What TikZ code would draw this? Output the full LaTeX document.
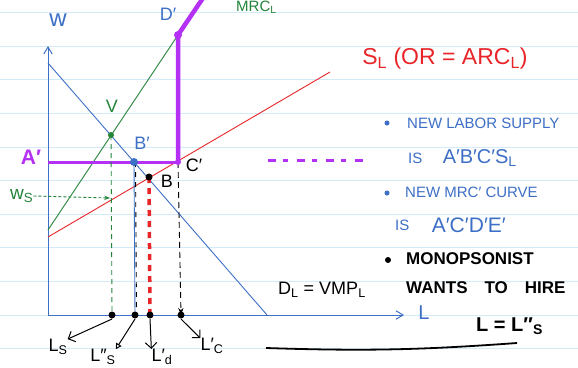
\documentclass[tikz,border=0pt]{standalone}
\usepackage{fontspec}
\setmainfont{Liberation Sans}
\usepackage{xcolor}
\usetikzlibrary{positioning, arrows.meta}
\definecolor{inkBlue}{HTML}{3D6FC6}
\definecolor{inkGreen}{HTML}{23843A}
\definecolor{inkRed}{HTML}{E8262A}
\definecolor{inkPurple}{HTML}{B530F5}
\definecolor{ruleBlue}{HTML}{D3EBF8}

\begin{document}
\begin{tikzpicture}[x=1pt, y=-1pt, inner sep=0pt,
    rule/.style={draw=ruleBlue, line width=1pt},
    ax/.style={draw=inkBlue, line width=1pt, -{Straight Barb[length=2.5mm, width=3mm]}},
    curve/.style={line width=0.9pt},
    mark/.style={circle, fill, inner sep=0pt, minimum size=#1},
    arr/.style={-{Straight Barb[length=2mm]}, line width=1pt},
    note/.style={anchor=west, font=\fontsize{15}{17}\selectfont},
    big/.style={font=\fontsize{18}{20}\selectfont}]
  \useasboundingbox (0,0) rectangle (578,367);
  \fill[white] (0,0) rectangle (578,367);
  \foreach \k in {0,...,10} \draw[rule] (0,{12.7+33.6*\k}) -- (578,{12.7+33.6*\k});
  % axes
  \coordinate (O) at (48,315);
  \coordinate (ytop) at (48,46);
  \coordinate (xend) at (404,315);
  \draw[ax] (O) -- (ytop);
  \draw[ax] (O) -- (xend);
  \node[text=inkBlue, font=\fontsize{24}{24}\selectfont] (wlab) at (58,20) {w};
  \node[text=inkBlue, font=\fontsize{20}{20}\selectfont] (Llab) at (424,313) {L};
  % curves
  \coordinate (d0) at (48,63);  \coordinate (d1) at (267,315);
  \coordinate (s0) at (48,237); \coordinate (s1) at (330,72);
  \coordinate (m0) at (48,230); \coordinate (Dp) at (178,35);
  \coordinate (e0) at (203,-2);
  \coordinate (V) at (111,135);
  \coordinate (Ap) at (48,162);
  \coordinate (Bp) at (134,162);
  \coordinate (Cp) at (178,162);
  \coordinate (B) at (149,177);
  \draw[inkBlue, curve] (d0) -- (d1);
  \draw[inkRed, curve] (s0) -- (s1);
  \draw[inkGreen, curve] (m0) -- (Dp);
  \draw[inkPurple, line width=3pt] (Ap) -- (Cp);
  \draw[inkPurple, line width=4.5pt, line join=round] (Cp) -- (Dp) -- (e0);
  % points on the L axis
  \coordinate (Ls) at (112,315);
  \coordinate (Lss) at (135,315);
  \coordinate (Ld) at (150,315);
  \coordinate (Lc) at (181,315);
  \draw[inkGreen, curve, dash pattern=on 5pt off 4pt] (V) -- (Ls);
  \draw[inkBlue, curve] (Bp) -- (Lss);
  \draw[curve, dash pattern=on 5pt off 5pt] ([xshift=1.5pt]Bp) -- ([xshift=1.5pt]Lss);
  \draw[inkRed, line width=3.5pt, dash pattern=on 6pt off 5pt] (B) -- (Ld);
  \draw[curve, dash pattern=on 6pt off 4pt, -{Stealth[length=2.5mm]}] (Cp) -- (Lc);
  \foreach \p in {Ls, Lss, Ld, Lc} \node[mark=7pt] at (\p) {};
  \node[mark=6pt, inkGreen] at (V) {};
  \node[mark=8pt, inkBlue] at (Bp) {};
  \node[mark=7pt] at (B) {};
  \node[mark=6pt, inkPurple] at (Cp) {};
  \node[mark=8pt, inkPurple] at (Dp) {};
  % labels
  \node[text=inkGreen, big] (Vlab) at (112,106) {V};
  \node[text=inkBlue, big] (Bplab) at (142,143) {B′};
  \node[big] (Cplab) at (194,165) {C′};
  \node[big] (Blab) at (167,181) {B};
  \node[text=inkBlue, big] (Dplab) at (168,14) {D′};
  \node[text=inkPurple, font=\fontsize{21}{23}\selectfont\bfseries] (Aplab) at (31,157) {A′};
  \node[text=inkGreen, font=\fontsize{19}{21}\selectfont, anchor=west] (wslab) at (10,196) {w\textsubscript{S}};
  \coordinate (wsend) at (110,198);
  \draw[inkGreen, curve, densely dashed, -{Stealth[length=2mm]}] (wslab.east) -- (wsend);
  \node[text=inkGreen, font=\fontsize{15}{17}\selectfont, anchor=north west] (mrclab) at (236,1) {MRC\textsubscript{L}};
  \node[text=inkRed, font=\fontsize{23}{25}\selectfont] (slab) at (445,59) {S\textsubscript{L} (OR = ARC\textsubscript{L})};
  \node[font=\fontsize{18}{20}\selectfont] (dlab) at (322,290) {D\textsubscript{L} = VMP\textsubscript{L}};
  % labels under the axis
  \node[big] (lslab) at (58,347) {L\textsubscript{S}};
  \node[big] (lsslab) at (103,357) {L″\textsubscript{S}};
  \node[big] (ldlab) at (162,357) {L′\textsubscript{d}};
  \node[big] (lclab) at (212,346) {L′\textsubscript{C}};
  \draw[arr] ([yshift=-4pt]Ls) -- (lslab.north east);
  \draw[line width=1pt, -{Triangle[open, length=2mm]}] ([yshift=-4pt]Lss) -- (lsslab.north east);
  \draw[arr] ([yshift=-4pt]Ld) -- (ldlab.north west);
  \draw[arr] ([yshift=-4pt]Lc) -- (lclab.north west);
  % purple dashes
  \coordinate (pd0) at (268,160); \coordinate (pd1) at (364,160);
  \draw[inkPurple, line width=3pt, dash pattern=on 8pt off 7pt on 5pt off 9pt] (pd0) -- (pd1);
  % notes
  \node[mark=5pt, inkBlue] (b1) at (387,123) {};
  \node[note, text=inkBlue] (n1) at (407,123) {NEW LABOR SUPPLY};
  \node[note, text=inkBlue] (is1) at (408,158) {IS};
  \node[note, text=inkBlue, font=\fontsize{20}{22}\selectfont, right=20pt of is1] (abc) {A′B′C′S\textsubscript{L}};
  \node[mark=5pt, inkBlue] (b2) at (387,193) {};
  \node[note, text=inkBlue] (n2) at (405,192) {NEW MRC′ CURVE};
  \node[note, text=inkBlue] (is2) at (395,225) {IS};
  \node[note, text=inkBlue, font=\fontsize{21}{23}\selectfont, right=22pt of is2] (acde) {A′C′D′E′};
  \node[mark=6pt] (b3) at (388,260) {};
  \node[note, font=\fontsize{17}{19}\selectfont\bfseries] (n3) at (406,259) {MONOPSONIST};
  \node[note, font=\fontsize{17}{19}\selectfont\bfseries] (n3b) at (406,288) {WANTS\quad TO\quad HIRE};
  \node[note, font=\fontsize{20}{22}\selectfont\bfseries] (n3c) at (476,326) {L = L″\textsubscript{S}};
  \coordinate (u0) at (266,348); \coordinate (u1) at (517,343);
  \draw[line width=1.8pt] (u0) to[bend right=3] (u1);
\end{tikzpicture}
\end{document}
